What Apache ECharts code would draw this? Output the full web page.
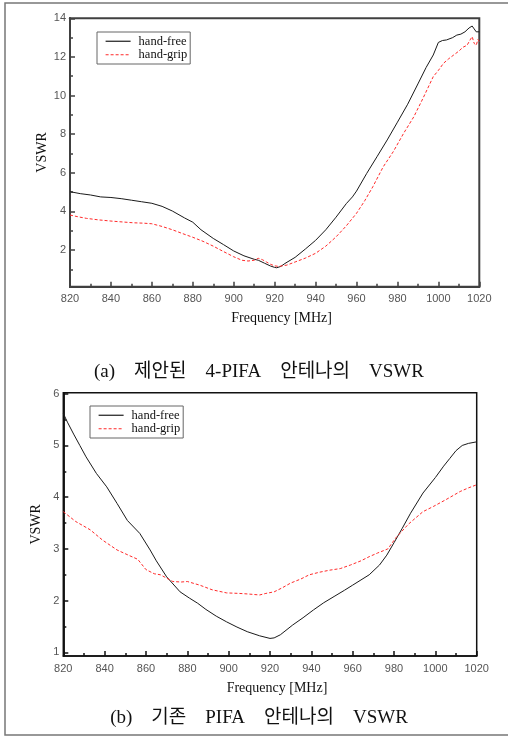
<!DOCTYPE html>
<html>
<head>
<meta charset="utf-8">
<script src="https://cdn.jsdelivr.net/npm/echarts@6/dist/echarts.min.js"></script>
<style>
html,body{margin:0;padding:0;background:#fff;}
#chart{width:508px;height:736px;}
</style>
</head>
<body>
<div id="chart"></div>
<script>
// ---- Data ----
const seriesNames = ['hand-free', 'hand-grip'];
const xTickLabels = [820, 840, 860, 880, 900, 920, 940, 960, 980, 1000, 1020];
const yTicksA = [2, 4, 6, 8, 10, 12, 14];
const yMinorA = [1, 3, 5, 7, 9, 11, 13];
const yTicksB = [1, 2, 3, 4, 5, 6];
const yMinorB = [1.5, 2.5, 3.5, 4.5, 5.5];

// (a) proposed 4-PIFA
const freqA_free = [820,825,830,835,840,845,850,855,860,865,870,876,880,884,890,895,900,905,910,912,915,918,920,921,923,925,930,935,940,945,950,955,958,960,965,970,975,980,985,990,994,997.5,1000,1002,1004,1007,1009,1011,1013,1015,1016.5,1017.5,1018.5,1020];
const vswrA_free = [5.02,4.92,4.85,4.75,4.72,4.66,4.58,4.5,4.42,4.26,4.02,3.66,3.44,3.05,2.6,2.28,1.95,1.7,1.52,1.47,1.32,1.17,1.1,1.08,1.15,1.3,1.62,2.05,2.5,3.05,3.7,4.4,4.75,5.05,5.97,6.83,7.7,8.62,9.55,10.6,11.45,12.1,12.75,12.85,12.88,13.0,13.13,13.18,13.3,13.5,13.6,13.45,13.3,13.3];
const freqA_grip = [820,824,828,834,840,846,851,856,860,865,870,875,880,885,890,895,900,904,907,910,912,914,916,918,920,922,926,930,935,940,945,950,955,960,964,968,973,978,983,988,992.5,997.5,1000,1002.5,1005,1007.5,1010,1012,1014,1015.5,1016.5,1017.5,1018.5,1019.3,1020];
const vswrA_grip = [3.81,3.72,3.64,3.56,3.5,3.45,3.41,3.39,3.36,3.22,3.05,2.85,2.66,2.45,2.2,1.92,1.65,1.47,1.43,1.47,1.57,1.5,1.38,1.26,1.18,1.15,1.22,1.38,1.58,1.83,2.2,2.68,3.25,3.9,4.55,5.28,6.3,7.1,8.04,8.9,9.86,10.98,11.3,11.67,11.9,12.1,12.3,12.5,12.6,12.88,13.05,12.7,12.6,12.9,12.8];

// (b) conventional PIFA
const freqB_free = [820,822,825,828,831,836,841,846,851,857,862,865,870,876.5,881,885,889,894,899,904,909,915,920,922,925,931,936,941,946,951,956,960,964,968,973,976.5,980,984,988,994,1000,1004,1007,1010,1013,1016,1020];
const vswrB_free = [5.62,5.45,5.22,5.0,4.78,4.46,4.2,3.88,3.55,3.3,2.98,2.77,2.46,2.17,2.05,1.95,1.83,1.7,1.59,1.49,1.4,1.32,1.27,1.28,1.34,1.53,1.67,1.82,1.96,2.08,2.2,2.3,2.4,2.5,2.69,2.88,3.12,3.4,3.69,4.08,4.38,4.6,4.75,4.9,5.0,5.04,5.07];
const freqB_grip = [820,826,833,839,846,852,856,860,864,867,873,877,880,886,892,899,905,909,915,918,922,926,930,935,939,944,949,954,959,964,968,972,977,981,987,994,999,1005,1012,1016,1020];
const vswrB_grip = [3.72,3.53,3.37,3.17,2.98,2.87,2.8,2.6,2.52,2.5,2.37,2.36,2.37,2.3,2.21,2.15,2.14,2.13,2.11,2.14,2.17,2.25,2.34,2.42,2.5,2.55,2.59,2.62,2.69,2.77,2.85,2.92,3.0,3.22,3.48,3.72,3.82,3.95,4.11,4.18,4.24];

const pairs = (xs, ys) => xs.map((x, i) => [x, ys[i]]);

// ---- Styles ----
const SERIF = "'Liberation Serif','Noto Sans CJK KR',serif";
const SANS = "'Liberation Sans',sans-serif";
const BLACK = '#1a1a1a';
const RED = '#ff2a2a';

function xAxisCfg(grid, color, w) {
  return {
    gridIndex: grid, type: 'value', min: 820, max: 1020, interval: 20,
    axisLine: { show: true, lineStyle: { color: color, width: w } },
    axisTick: { show: true, inside: true, length: 5, lineStyle: { color: color, width: 1.5 } },
    minorTick: { show: true, splitNumber: 2, length: 3, lineStyle: { color: color, width: 1.5 } },
    axisLabel: { color: '#555', fontFamily: SANS, fontSize: 11, margin: 7,
      formatter: v => xTickLabels.includes(v) ? String(v) : '' },
    splitLine: { show: false },
    name: 'Frequency [MHz]', nameLocation: 'middle', nameGap: 25, nameMoveOverlap: false,
    nameTextStyle: { fontFamily: SERIF, fontSize: 14, color: '#111', padding: [0, 0, 0, 14] }
  };
}
function yAxisMajor(grid, min, max, ticks, color, w, nameGap) {
  return {
    gridIndex: grid, type: 'value', min: min, max: max, position: 'left',
    axisLine: { show: true, lineStyle: { color: color, width: w } },
    axisTick: { show: true, inside: true, length: 5, customValues: ticks, lineStyle: { color: color, width: 1.5 } },
    axisLabel: { show: true, customValues: ticks, color: '#555', fontFamily: SANS, fontSize: 11, margin: 4 },
    splitLine: { show: false },
    name: 'VSWR', nameLocation: 'middle', nameGap: nameGap, nameMoveOverlap: false,
    nameTextStyle: { fontFamily: SERIF, fontSize: 14, color: '#111' }
  };
}
function yAxisMinor(grid, min, max, ticks, color, w) {
  return {
    gridIndex: grid, type: 'value', min: min, max: max, position: 'left', offset: 0,
    axisLine: { show: true, lineStyle: { color: color, width: w } },
    axisTick: { show: true, inside: true, length: 3, customValues: ticks, lineStyle: { color: color, width: 1.5 } },
    axisLabel: { show: false },
    splitLine: { show: false }
  };
}
function legendCfg(left, top) {
  return {
    data: seriesNames,
    orient: 'vertical', left: left, top: top,
    backgroundColor: '#fff', borderColor: '#666', borderWidth: 1,
    padding: [3, 3, 3, 8], itemGap: 1, itemWidth: 25, itemHeight: 12,
    itemStyle: { opacity: 0 },
    lineStyle: { width: 1.2 },
    textStyle: { fontFamily: SERIF, fontSize: 12.5, color: '#111', padding: [0, 0, 0, 3] },
    selectedMode: false
  };
}
function lineSeries(name, x, y, data, color, dashed) {
  return {
    name: name, type: 'line', xAxisIndex: x, yAxisIndex: y, data: data,
    symbol: 'none', showSymbol: false, smooth: false, animation: false,
    lineStyle: { color: color, width: 1, type: dashed ? [3, 2] : 'solid' },
    itemStyle: { color: color }
  };
}

const chart = echarts.init(document.getElementById('chart'), null, { renderer: 'canvas' });
chart.setOption({
  animation: false,
  backgroundColor: '#fff',
  grid: [
    { left: 70, top: 18.3, width: 409.3, height: 268.4, show: true, borderColor: '#404040', borderWidth: 2 },
    { left: 63.3, top: 392.7, width: 413.4, height: 263.3, show: true, borderColor: '#111', borderWidth: 1.5 }
  ],
  xAxis: [ xAxisCfg(0, '#404040', 2), xAxisCfg(1, '#111', 1.5) ],
  yAxis: [
    yAxisMajor(0, 0.1, 14, yTicksA, '#404040', 2, 20.5),
    yAxisMinor(0, 0.1, 14, yMinorA, '#404040', 2),
    yAxisMajor(1, 0.93, 6.02, yTicksB, '#111', 1.5, 20),
    yAxisMinor(1, 0.93, 6.02, yMinorB, '#111', 1.5)
  ],
  legend: [ legendCfg(97, 32), legendCfg(90, 406) ],
  series: [
    lineSeries(seriesNames[0], 0, 0, pairs(freqA_free, vswrA_free), BLACK, false),
    lineSeries(seriesNames[1], 0, 0, pairs(freqA_grip, vswrA_grip), RED, true),
    lineSeries(seriesNames[0], 1, 2, pairs(freqB_free, vswrB_free), BLACK, false),
    lineSeries(seriesNames[1], 1, 2, pairs(freqB_grip, vswrB_grip), RED, true)
  ],
  graphic: [
    { type: 'rect', shape: { x: 5, y: 3, width: 510, height: 732 }, style: { fill: 'none', stroke: '#777', lineWidth: 1.5 }, silent: true, z: -10 },
    { type: 'text', x: 259, y: 372, style: { text: '(a)    제안된    4-PIFA    안테나의    VSWR', font: "19px 'Liberation Serif','Noto Sans CJK KR',serif", fill: '#111', textAlign: 'center', textVerticalAlign: 'middle' } },
    { type: 'text', x: 259, y: 718, style: { text: '(b)    기존    PIFA    안테나의    VSWR', font: "19px 'Liberation Serif','Noto Sans CJK KR',serif", fill: '#111', textAlign: 'center', textVerticalAlign: 'middle' } }
  ]
});
</script>
</body>
</html>
